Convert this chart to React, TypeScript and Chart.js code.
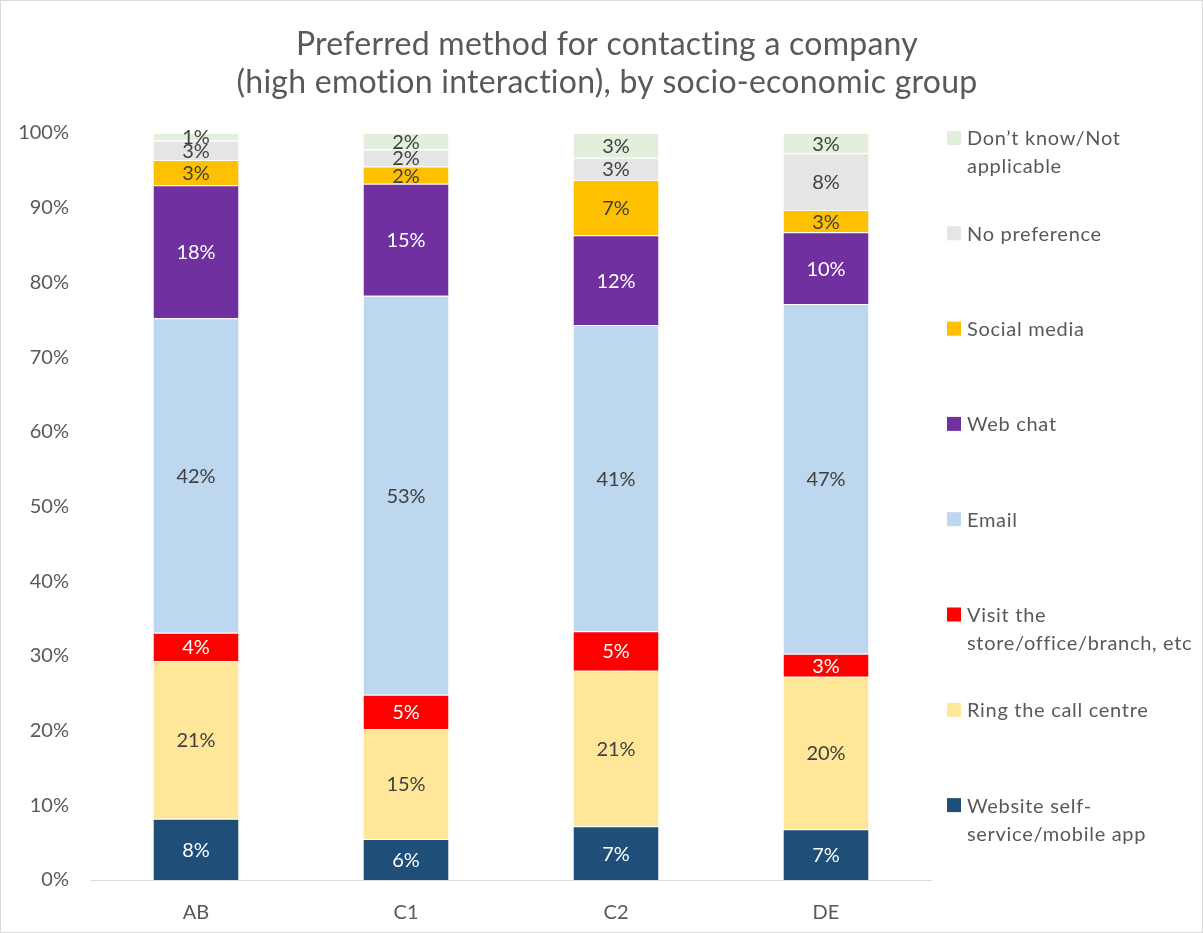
import React, { useEffect, useRef } from "react";
import { Chart, registerables } from "chart.js";

Chart.register(...registerables);

const categories = ["AB", "C1", "C2", "DE"];
const titleLines = [
  "Preferred method for contacting a company",
  "(high emotion interaction), by socio-economic group",
];
const seriesNames = [
  "Website self-\nservice/mobile app",
  "Ring the call centre",
  "Visit the\nstore/office/branch, etc",
  "Email",
  "Web chat",
  "Social media",
  "No preference",
  "Don\u2019t know/Not\napplicable",
];
const websiteSelfService = [8.2, 5.5, 7.2, 6.8];
const ringCallCentre = [21.1, 14.7, 20.8, 20.4];
const visitStore = [3.8, 4.6, 5.3, 3.1];
const emailValues = [42.1, 53.4, 41.0, 46.8];
const webChat = [17.8, 15.0, 12.0, 9.6];
const socialMedia = [3.4, 2.3, 7.4, 3.0];
const noPreference = [2.6, 2.3, 3.0, 7.6];
const dontKnow = [1.0, 2.2, 3.3, 2.7];
const yTicks = [0, 10, 20, 30, 40, 50, 60, 70, 80, 90, 100];

const seriesValues = [
  websiteSelfService,
  ringCallCentre,
  visitStore,
  emailValues,
  webChat,
  socialMedia,
  noPreference,
  dontKnow,
];
const seriesColors = [
  "#1F4E79",
  "#FFE699",
  "#FF0000",
  "#BDD7EE",
  "#7030A0",
  "#FFC000",
  "#E5E5E5",
  "#E2EFDA",
];
const labelColors = [
  "#FFFFFF",
  "#404040",
  "#FFFFFF",
  "#404040",
  "#FFFFFF",
  "#404040",
  "#404040",
  "#404040",
];

const FONT = "Lato, 'Open Sans', sans-serif";

const decorPlugin = {
  id: "decor",
  afterDatasetsDraw(chart: any) {
    const ctx = chart.ctx;
    ctx.save();
    ctx.font = `20px ${FONT}`;
    ctx.textAlign = "center";
    ctx.textBaseline = "middle";
    chart.data.datasets.forEach((ds: any, di: number) => {
      const meta = chart.getDatasetMeta(di);
      meta.data.forEach((el: any, i: number) => {
        const v = ds.data[i];
        const cy = (el.y + el.base) / 2;
        ctx.fillStyle = labelColors[di];
        ctx.fillText(Math.round(v) + "%", el.x, cy + 1);
      });
    });
    ctx.restore();
  },
  afterDraw(chart: any) {
    const ctx = chart.ctx;
    ctx.save();
    // title
    ctx.fillStyle = "#595959";
    ctx.font = `32px ${FONT}`;
    (ctx as any).letterSpacing = "0.25px";
    ctx.textAlign = "center";
    ctx.textBaseline = "middle";
    titleLines.forEach((t, i) => {
      ctx.fillText(t, 607, 45 + i * 38);
    });
    // legend
    ctx.font = `20px ${FONT}`;
    (ctx as any).letterSpacing = "0.7px";
    ctx.textAlign = "left";
    const n = seriesNames.length;
    for (let k = 0; k < n; k++) {
      const di = n - 1 - k;
      const y = 138 + k * 95.3;
      ctx.fillStyle = seriesColors[di];
      ctx.fillRect(947, y - 7, 14, 14);
      ctx.fillStyle = "#595959";
      seriesNames[di].split("\n").forEach((line, li) => {
        ctx.fillText(line, 967, y + li * 28 + 1);
      });
    }
    (ctx as any).letterSpacing = "0px";
    // border
    ctx.strokeStyle = "#D9D9D9";
    ctx.lineWidth = 1;
    ctx.strokeRect(0.5, 0.5, chart.width - 1, chart.height - 1);
    ctx.restore();
  },
};

export default function App() {
  const ref = useRef<HTMLCanvasElement>(null);
  useEffect(() => {
    document.body.style.margin = "0";
    const chart = new Chart(ref.current!, {
      type: "bar",
      data: {
        labels: categories,
        datasets: seriesValues.map((vals, i) => ({
          label: seriesNames[i].replace("\n", " "),
          data: vals,
          backgroundColor: seriesColors[i],
          borderColor: "rgba(255,255,255,0.7)",
          borderWidth: { top: 1, bottom: 0, left: 0, right: 0 },
          borderSkipped: false,
          categoryPercentage: 1,
          barPercentage: 0.405,
        })),
      },
      options: {
        animation: false,
        responsive: false,
        devicePixelRatio: 1,
        layout: { padding: { top: 133, right: 272, bottom: 0, left: 0 } },
        plugins: {
          legend: { display: false },
          title: { display: false },
          tooltip: { enabled: false },
        },
        scales: {
          x: {
            stacked: true,
            grid: { display: false, drawTicks: false },
            border: { display: true, color: "#D9D9D9", width: 1 },
            ticks: {
              color: "#595959",
              font: { family: FONT, size: 20 },
              padding: 21,
            },
            afterFit: (s: any) => {
              s.height = 53;
            },
          },
          y: {
            stacked: true,
            min: 0,
            max: 100,
            grid: { display: false, drawTicks: false },
            border: { display: false },
            afterBuildTicks: (s: any) => {
              s.ticks = yTicks.map((v) => ({ value: v }));
            },
            ticks: {
              color: "#595959",
              font: { family: FONT, size: 20 },
              padding: 22,
              callback: (v: any) => v + "%",
            },
            afterFit: (s: any) => {
              s.width = 91;
            },
          },
        },
      },
      plugins: [decorPlugin],
    });
    return () => chart.destroy();
  }, []);
  return (
    <div style={{ width: 1203, height: 933 }}>
      <canvas ref={ref} width={1203} height={933} style={{ display: "block" }} />
    </div>
  );
}
